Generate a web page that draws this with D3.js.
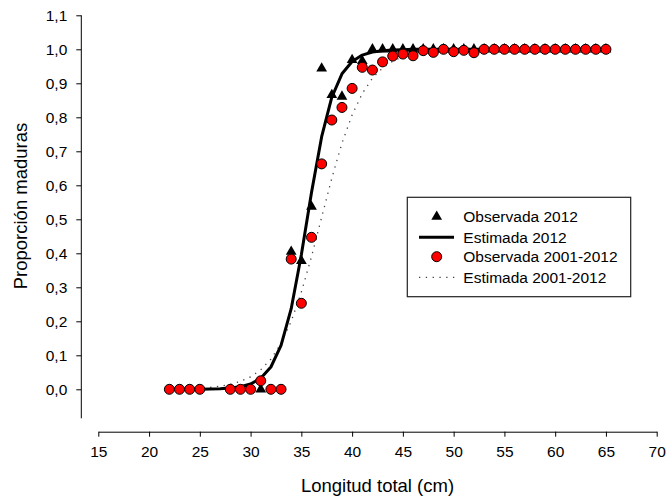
<!DOCTYPE html>
<html>
<head>
<meta charset="utf-8">
<script src="https://cdn.jsdelivr.net/npm/d3@7"></script>
<style>
  html, body { margin: 0; padding: 0; background: #fff; }
  svg { display: block; font-family: "Liberation Sans", Arial, sans-serif; }
</style>
</head>
<body>
<svg id="chart" width="668" height="500"></svg>
<script>
// ---- Data ----
const xTicks = [15, 20, 25, 30, 35, 40, 45, 50, 55, 60, 65, 70];
const yTicks = [0, 0.1, 0.2, 0.3, 0.4, 0.5, 0.6, 0.7, 0.8, 0.9, 1.0, 1.1];

// Observada 2012 (triangles)
const obs2012Len = [31, 34, 35, 36, 37, 38, 39, 40, 41, 42, 43, 44, 45, 46, 47, 48, 49, 50, 51, 52, 53, 54, 55, 56, 57, 58, 59, 60, 61, 62, 63, 64, 65];
const obs2012Val = [0, 0.405, 0.378, 0.537, 0.944, 0.866, 0.861, 0.969, 0.966, 1, 1, 1, 1, 1, 1, 1, 1, 1, 1, 1, 1, 1, 1, 1, 1, 1, 1, 1, 1, 1, 1, 1, 1];

// Observada 2001-2012 (circles)
const obsAllLen = [22, 23, 24, 25, 28, 29, 30, 31, 32, 33, 34, 35, 36, 37, 38, 39, 40, 41, 42, 43, 44, 45, 46, 47, 48, 49, 50, 51, 52, 53, 54, 55, 56, 57, 58, 59, 60, 61, 62, 63, 64, 65];
const obsAllVal = [0, 0, 0, 0, 0, 0, 0, 0.025, 0, 0, 0.383, 0.253, 0.447, 0.663, 0.792, 0.829, 0.885, 0.947, 0.939, 0.963, 0.980, 0.986, 0.981, 0.996, 0.991, 1, 0.993, 0.997, 0.990, 1, 1, 1, 1, 1, 1, 1, 1, 1, 1, 1, 1, 1];

// Estimated curves at each length (cm)
const estLen = [22, 23, 24, 25, 26, 27, 28, 29, 30, 31, 32, 33, 34, 35, 36, 37, 38, 39, 40, 41, 42, 43, 44, 45, 46, 47, 48, 49, 50, 51, 52, 53, 54, 55, 56, 57, 58, 59, 60, 61, 62, 63, 64, 65];
const est2012Val = [0.0000, 0.0001, 0.0002, 0.0004, 0.0008, 0.0017, 0.0036, 0.0075, 0.0157, 0.0323, 0.0656, 0.129, 0.237, 0.396, 0.579, 0.743, 0.859, 0.928, 0.964, 0.983, 0.992, 0.996, 0.998, 0.999, 1, 1, 1, 1, 1, 1, 1, 1, 1, 1, 1, 1, 1, 1, 1, 1, 1, 1, 1, 1];
const estAllVal = [0.0009, 0.0014, 0.0023, 0.0036, 0.0058, 0.0092, 0.0146, 0.0232, 0.0367, 0.0574, 0.0888, 0.135, 0.200, 0.286, 0.390, 0.506, 0.621, 0.724, 0.807, 0.870, 0.915, 0.945, 0.965, 0.978, 0.986, 0.991, 0.994, 0.997, 0.998, 0.999, 1, 1, 1, 1, 1, 1, 1, 1, 1, 1, 1, 1, 1, 1];

const legendLabels = ["Observada 2012", "Estimada 2012", "Observada 2001-2012", "Estimada 2001-2012"];

// ---- Chart ----
const svg = d3.select("#chart");
const FONT = 15.5;

const x = d3.scaleLinear().domain([15, 70]).range([98.3, 656.7]);
const y = d3.scaleLinear().domain([0, 1.1]).range([389.3, 15.3]);
const yBottom = 418.3;
const yAxisX = 81.3;
const xAxisY = 431.7;

const fmt = d3.format(".1f");
const comma = v => fmt(v).replace(".", ",");

// Y axis
const yAxisG = svg.append("g").attr("transform", `translate(${yAxisX},0)`);
yAxisG.call(d3.axisLeft(y).tickValues(yTicks).tickFormat(comma).tickSize(5).tickPadding(9).tickSizeOuter(0));
yAxisG.select(".domain").remove();
yAxisG.append("line").attr("x1", 0).attr("x2", 0).attr("y1", y(1.1)).attr("y2", yBottom)
  .attr("stroke", "#000").attr("stroke-width", 1);
yAxisG.selectAll("text").attr("font-size", FONT).attr("fill", "#000").attr("font-family", "Liberation Sans, Arial, sans-serif");

// X axis
const xAxisG = svg.append("g").attr("transform", `translate(0,${xAxisY})`);
xAxisG.call(d3.axisBottom(x).tickValues(xTicks).tickFormat(d3.format("d")).tickSize(5).tickPadding(9).tickSizeOuter(0));
xAxisG.selectAll("text").attr("font-size", FONT).attr("fill", "#000").attr("font-family", "Liberation Sans, Arial, sans-serif");

// Axis titles
svg.append("text")
  .attr("transform", `translate(27,206) rotate(-90)`)
  .attr("text-anchor", "middle")
  .attr("font-size", 18.5)
  .text("Proporción maduras");

svg.append("text")
  .attr("x", (x(15) + x(70)) / 2)
  .attr("y", 492)
  .attr("text-anchor", "middle")
  .attr("font-size", 18.5)
  .text("Longitud total (cm)");

// Curves
const line = d3.line().x(d => x(d[0])).y(d => y(d[1]));
const est2012 = estLen.map((l, i) => [l, est2012Val[i]]);
const estAll = estLen.map((l, i) => [l, estAllVal[i]]);

svg.append("path").datum(estAll).attr("d", line)
  .attr("fill", "none").attr("stroke", "#444").attr("stroke-width", 1.3)
  .attr("stroke-dasharray", "1.3,5.5");

svg.append("path").datum(est2012).attr("d", line)
  .attr("fill", "none").attr("stroke", "#000").attr("stroke-width", 3)
  .attr("stroke-linejoin", "round");

// Triangles
const tri = d3.symbol().type(d3.symbolTriangle).size(50);
svg.append("g").selectAll("path")
  .data(obs2012Len.map((l, i) => [l, obs2012Val[i]]))
  .join("path")
  .attr("d", tri)
  .attr("transform", d => `translate(${x(d[0])},${y(d[1])})`)
  .attr("fill", "#000");

// Circles
svg.append("g").selectAll("circle")
  .data(obsAllLen.map((l, i) => [l, obsAllVal[i]]))
  .join("circle")
  .attr("cx", d => x(d[0]))
  .attr("cy", d => y(d[1]))
  .attr("r", 5)
  .attr("fill", "#ff0000")
  .attr("stroke", "#000")
  .attr("stroke-width", 1);

// Legend
const lg = svg.append("g");
lg.append("rect").attr("x", 407.3).attr("y", 197.3).attr("width", 223.4).attr("height", 99.4)
  .attr("fill", "#fff").attr("stroke", "#222").attr("stroke-width", 1.2);
const rows = [216.7, 237.3, 256.7, 277.3];
lg.append("path").attr("d", tri).attr("transform", `translate(436.7,${rows[0]})`).attr("fill", "#000");
lg.append("line").attr("x1", 419).attr("x2", 454).attr("y1", rows[1]).attr("y2", rows[1])
  .attr("stroke", "#000").attr("stroke-width", 3);
lg.append("circle").attr("cx", 436.7).attr("cy", rows[2]).attr("r", 5)
  .attr("fill", "#ff0000").attr("stroke", "#000").attr("stroke-width", 1);
lg.append("line").attr("x1", 419).attr("x2", 456).attr("y1", rows[3]).attr("y2", rows[3])
  .attr("stroke", "#444").attr("stroke-width", 1.3).attr("stroke-dasharray", "1.3,5.5");
lg.selectAll("text.lbl").data(legendLabels).join("text")
  .attr("class", "lbl")
  .attr("x", 463.3)
  .attr("y", (d, i) => rows[i])
  .attr("dy", "0.35em")
  .attr("font-size", FONT)
  .text(d => d);
</script>
</body>
</html>
